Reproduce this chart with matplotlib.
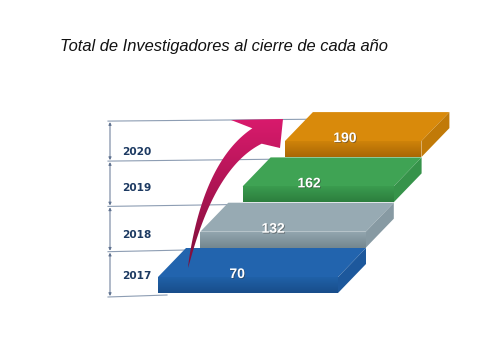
import numpy as np
import matplotlib.pyplot as plt
import matplotlib.patheffects as pe
from matplotlib.patches import Polygon
from matplotlib.colors import LinearSegmentedColormap

# data
years = ['2017', '2018', '2019', '2020']
values = [70, 132, 162, 190]
title = 'Total de Investigadores al cierre de cada año'

# colours per step (top, front light, front dark, side)
top_colors = ['#2264ae', '#97aab3', '#3fa354', '#d98a0b']
front_top = ['#2061a8', '#92a5ae', '#3b9c4f', '#cf830a']
front_bot = ['#184d8a', '#74878f', '#2c7e3e', '#a96705']
side_colors = ['#1d589c', '#879aa3', '#36934a', '#c17a08']


def grad_fill(ax, verts, c1, c2, z):
    # polygon filled with a vertical gradient c1 (top) -> c2 (bottom)
    poly = Polygon(verts, closed=True, facecolor='none', edgecolor='none', zorder=z)
    ax.add_patch(poly)
    xs = [v[0] for v in verts]
    ys = [v[1] for v in verts]
    cmap = LinearSegmentedColormap.from_list('g', [c1, c2])
    g = np.linspace(0, 1, 64).reshape(-1, 1)
    im = ax.imshow(g, cmap=cmap, extent=(min(xs), max(xs), max(ys), min(ys)),
                   aspect='auto', zorder=z, interpolation='bilinear')
    im.set_clip_path(poly)


fig = plt.figure(figsize=(4.8, 3.6), dpi=100)
ax = fig.add_axes([0, 0, 1, 1])
ax.axis('off')

# step layout (pixels)
n = len(values)
x0 = [158 + 42.3 * i for i in range(n)]
width = [180 - 14.5 * i for i in range(n)]
yb = [293 - 45.3 * i for i in range(n)]
th, dx, dy = 16, 28, 29

# guide lines and dimension arrows on the left
bounds = [yb[i] + 4 for i in range(n)] + [yb[-1] - 36]
right_ends = [x0[0] + 9] + [x0[i] for i in range(1, n)] + [x0[-1] + 40]
for y, xr in zip(bounds, right_ends):
    ax.plot([108, xr], [y, y - 2], color='#8d9db3', lw=0.8, zorder=1)
for i in range(n):
    ax.annotate('', xy=(110, bounds[i + 1] + 1), xytext=(110, bounds[i] - 1),
                arrowprops=dict(arrowstyle='<|-|>', color='#5f7290', lw=0.7,
                                mutation_scale=4, shrinkA=0, shrinkB=0), zorder=2)

year_y = [276, 235, 188, 152]
for yr, y in zip(years, year_y):
    ax.text(137, y, yr, ha='center', va='center', fontsize=7.6, fontweight='bold',
            color='#1d3a62', family='DejaVu Sans', zorder=3)

# slabs, back to front
for i in reversed(range(n)):
    xl, xr = x0[i], x0[i] + width[i]
    yt = yb[i] - th
    top = [(xl, yt), (xr, yt), (xr + dx, yt - dy), (xl + dx, yt - dy)]
    ax.add_patch(Polygon(top, closed=True, facecolor=top_colors[i],
                         edgecolor='none', zorder=4))
    side = [(xr, yt), (xr + dx, yt - dy), (xr + dx, yb[i] - dy), (xr, yb[i])]
    ax.add_patch(Polygon(side, closed=True, facecolor=side_colors[i],
                         edgecolor='none', zorder=4))
    front = [(xl, yt), (xr, yt), (xr, yb[i]), (xl, yb[i])]
    grad_fill(ax, front, front_top[i], front_bot[i], 4)
    ax.text(xl + 0.44 * width[i], yt - 3, str(values[i]), ha='center', va='center',
            fontsize=10, fontweight='bold', color='white', family='Liberation Sans',
            zorder=6, path_effects=[pe.withSimplePatchShadow(offset=(0.6, -0.6),
                                                             shadow_rgbFace='#333333', alpha=0.5)])

# curved growth arrow
p0, p1, p2 = np.array([188, 268.]), np.array([208, 165.]), np.array([257, 136.])
t = np.linspace(0, 1, 60)
curve = ((1 - t) ** 2)[:, None] * p0 + (2 * t * (1 - t))[:, None] * p1 + (t ** 2)[:, None] * p2
tang = np.gradient(curve, axis=0)
tang /= np.linalg.norm(tang, axis=1)[:, None]
norm = np.column_stack([tang[:, 1], -tang[:, 0]])
half = 9.0 * t ** 0.8
upper = curve + norm * half[:, None]
lower = curve - norm * half[:, None]
head = [(231, 120), (283, 119), (280, 148)]
arrow = list(map(tuple, upper)) + head + list(map(tuple, lower[::-1]))
grad_fill(ax, arrow, '#d81a6c', '#7e0e38', 7)

ax.set_xlim(0, 480)
ax.set_ylim(360, 0)

fig.text(60 / 480, 1 - 46 / 360, title, ha='left', va='center', fontsize=11.9,
         style='italic', family='Liberation Sans', color='#111111')

plt.savefig('out.png')
